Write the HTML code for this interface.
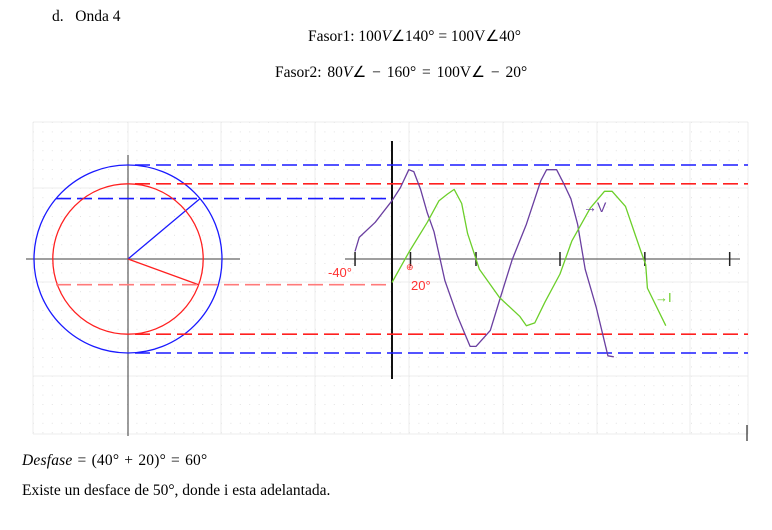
<!DOCTYPE html>
<html><head><meta charset="utf-8">
<style>
html,body{margin:0;padding:0;background:#fff;}
body{width:772px;height:530px;position:relative;overflow:hidden;font-family:"Liberation Serif",serif;color:#000;}
.t{position:absolute;font-size:15.5px;white-space:nowrap;}
svg{position:absolute;left:0;top:0;}
</style></head><body>
<div class="t" style="left:52px;top:8px;">d.&nbsp;&nbsp;&nbsp;Onda 4</div>
<div class="t" style="left:308px;top:27px;word-spacing:0px;">Fasor1: 100<i>V</i>∠140° = 100V∠40°</div>
<div class="t" style="left:275px;top:63px;word-spacing:2px;">Fasor2: 80<i>V</i>∠ − 160° = 100V∠ − 20°</div>
<div class="t" style="left:22px;top:452px;word-spacing:1px;letter-spacing:0.2px;"><i>Desfase</i> = (40° + 20)° = 60°</div>
<div class="t" style="left:22px;top:482px;font-size:15.5px;">Existe un desface de 50°, donde i esta adelantada.</div>
<svg id="chart" width="772" height="530">
<defs>
<pattern id="dots" x="33" y="122" width="9.4" height="9.4" patternUnits="userSpaceOnUse"><rect x="0" y="0" width="1" height="1" fill="#e2e2e2"/></pattern>
</defs>
<rect x="33" y="122" width="715" height="312" fill="url(#dots)"/>
<g id="grid" stroke="#ececec" stroke-width="1"></g>
<g id="main"></g>
<line x1="747" y1="425" x2="747" y2="441" stroke="#000"/>
</svg>
<script>
const NS="http://www.w3.org/2000/svg";
const cx=128, cy=259, unit=0.94; // px per volt
const magnitudes=[100,80];
const anglesDeg=[40,-20];
const phasorColors=["#1a1aff","#ff2020"];
const tickX=[-44,22,100,200,301,402]; // degrees on wave axis
const vWave=[[-44,8],[-39,23],[-20,39],[0,62],[10,76],[20,95],[26,93],[34,74],[42,49],[50,29],[63,-23],[78,-61],[93,-93],[100,-93],[117,-76],[129,-41],[143,-1],[160,37],[177,83],[184,95],[196,95],[204,81],[213,64],[221,37],[230,-11],[243,-51],[257,-103],[264,-104]];
const iWave=[[0,-25],[20,7],[42,39],[56,62],[66,69],[74,74],[83,59],[90,27],[104,-11],[128,-41],[152,-61],[160,-71],[170,-68],[182,-46],[200,-16],[214,19],[236,54],[253,72],[262,72],[278,56],[296,9],[302,-6],[304,-31],[326,-71]];
const ax0=392, degPx=84/100;
function X(d){return ax0+d*degPx;}
function Y(v){return cy-v*unit;}
const main=document.getElementById('main'), grid=document.getElementById('grid');
function el(tag,attrs,parent){const e=document.createElementNS(NS,tag);for(const k in attrs)e.setAttribute(k,attrs[k]);(parent||main).appendChild(e);return e;}
[33,128,221,315,409,503,597,690,748].forEach(x=>{el('line',{x1:x,y1:122,x2:x,y2:434},grid);});
[122,188,282,376,434].forEach(y=>{el('line',{x1:33,y1:y,x2:748,y2:y},grid);});
let a=el('line',{x1:26,y1:cy,x2:240,y2:cy,stroke:'#666','stroke-width':1.3});

a=el('line',{x1:128,y1:155,x2:128,y2:436,stroke:'#666','stroke-width':1.3});

a=el('line',{x1:345,y1:cy,x2:740,y2:cy,stroke:'#666','stroke-width':1.3});

a=el('line',{x1:392,y1:141,x2:392,y2:379,stroke:'#111','stroke-width':2});

tickX.forEach(d=>{const t=el('line',{x1:X(d),y1:cy-7,x2:X(d),y2:cy+7,stroke:'#222','stroke-width':1.5});
});
magnitudes.forEach((m,i)=>{
  const r=m*unit, c=phasorColors[i];
  const ci=el('circle',{cx:cx,cy:cy,r:r,fill:'none',stroke:c,'stroke-width':1.3});
  
  const th=anglesDeg[i]*Math.PI/180, px=cx+r*Math.cos(th), py=cy-r*Math.sin(th);
  const ln=el('line',{x1:cx,y1:cy,x2:px,y2:py,stroke:c,'stroke-width':1.3});
  
  const dash='15 6';
  const top=el('line',{x1:cx+7,y1:cy-r,x2:748,y2:cy-r,stroke:c,'stroke-width':1.6,'stroke-dasharray':dash});
  
  const bot=el('line',{x1:cx+7,y1:cy+r,x2:748,y2:cy+r,stroke:c,'stroke-width':1.6,'stroke-dasharray':dash});
  
  const pr=el('line',{x1:56,y1:py,x2:392,y2:py,stroke:i?'#ff7a7a':c,'stroke-width':1.6,'stroke-dasharray':dash});
  
});
function curve(pts,color,name){
  const d=pts.map((p,i)=>(i?'L':'M')+X(p[0]).toFixed(1)+','+Y(p[1]).toFixed(1)).join(' ');
  const p=el('path',{d:d,fill:'none',stroke:color,'stroke-width':1.3,'stroke-linejoin':'round'});
  
}
curve(vWave,'#6a3fa0','voltage-wave');
curve(iWave,'#6ccf2a','current-wave');
function txt(x,y,s,c,size,name){const t=el('text',{x:x,y:y,fill:c,'font-size':size,'font-family':'Liberation Sans, sans-serif'});t.textContent=s;
}
txt(328,277,'-40°','#ff3030',13,'label-minus-40');
txt(411,290,'20°','#ff3030',13,'label-20');
txt(406,270,'⊕','#ff3030',9,'origin-marker');
txt(583,212,'→V','#6a3fa0',14,'label-v');
txt(655,302,'→I','#6ccf2a',13,'label-i');
</script>
</body></html>
